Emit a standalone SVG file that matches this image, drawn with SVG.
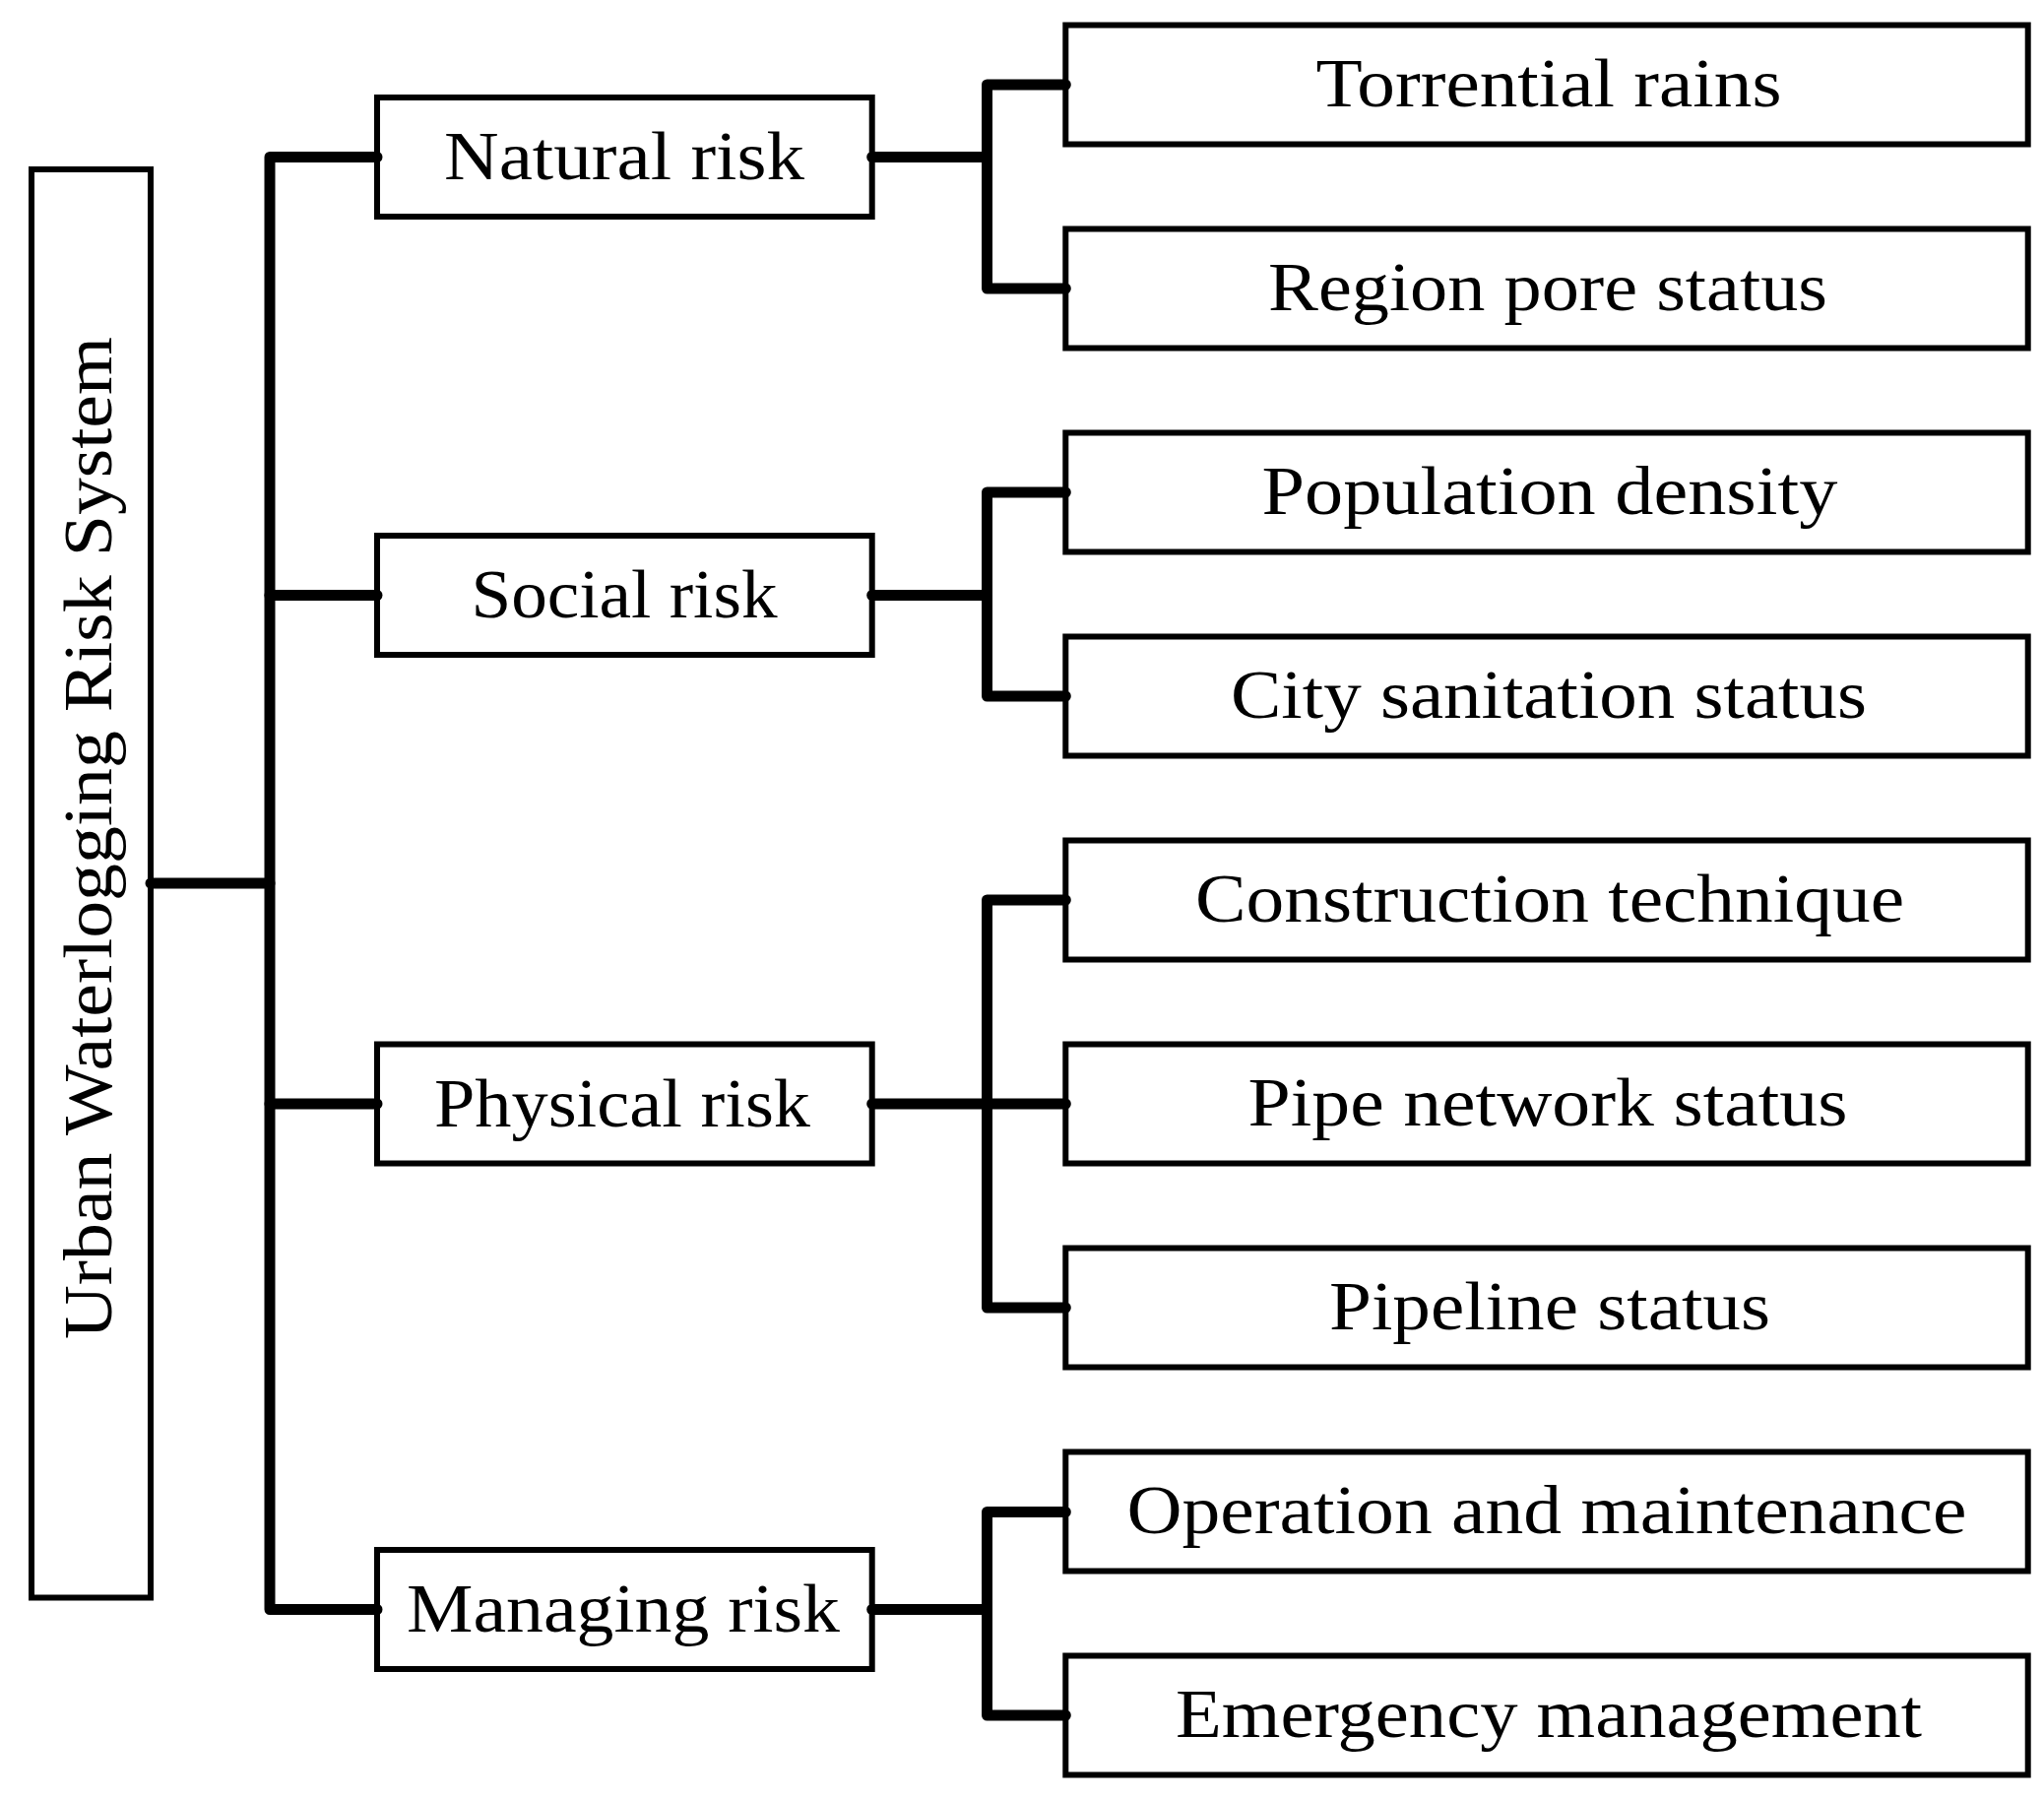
<svg xmlns="http://www.w3.org/2000/svg" width="2076" height="1828" viewBox="0 0 2076 1828">
<style>
.box{fill:#fff;stroke:#000;stroke-width:6}
.lbl{font-family:"Liberation Serif","Times New Roman",serif;font-size:70px;fill:#000;text-anchor:middle}
.con{fill:none;stroke:#000;stroke-width:11;stroke-linecap:round;stroke-linejoin:round}
</style>
<rect width="2076" height="1828" fill="#fff"/>
<g id="root">
<rect class="box" x="32" y="172" width="121" height="1450.5"/>
<text class="lbl" transform="translate(113,851) rotate(-90)" textLength="1018" lengthAdjust="spacingAndGlyphs">Urban Waterlogging Risk System</text>
</g>
<g id="natural">
<rect class="box" x="383" y="99" width="502.7" height="121"/>
<text class="lbl" x="634" y="182" textLength="366" lengthAdjust="spacingAndGlyphs">Natural risk</text>
</g>
<g id="social">
<rect class="box" x="383" y="544" width="502.7" height="121"/>
<text class="lbl" x="634" y="627" textLength="311" lengthAdjust="spacingAndGlyphs">Social risk</text>
</g>
<g id="physical">
<rect class="box" x="383" y="1060.5" width="502.7" height="121"/>
<text class="lbl" x="632" y="1144" textLength="382" lengthAdjust="spacingAndGlyphs">Physical risk</text>
</g>
<g id="managing">
<rect class="box" x="383" y="1574" width="502.7" height="121"/>
<text class="lbl" x="633" y="1657" textLength="440" lengthAdjust="spacingAndGlyphs">Managing risk</text>
</g>
<g id="torrential">
<rect class="box" x="1082.3" y="25.5" width="977.4" height="121"/>
<text class="lbl" x="1573" y="108" textLength="473" lengthAdjust="spacingAndGlyphs">Torrential rains</text>
</g>
<g id="region">
<rect class="box" x="1082.3" y="232.5" width="977.4" height="121"/>
<text class="lbl" x="1572" y="315" textLength="568" lengthAdjust="spacingAndGlyphs">Region pore status</text>
</g>
<g id="population">
<rect class="box" x="1082.3" y="439.5" width="977.4" height="121"/>
<text class="lbl" x="1574" y="522" textLength="585" lengthAdjust="spacingAndGlyphs">Population density</text>
</g>
<g id="sanitation">
<rect class="box" x="1082.3" y="646.5" width="977.4" height="121"/>
<text class="lbl" x="1573" y="729" textLength="646" lengthAdjust="spacingAndGlyphs">City sanitation status</text>
</g>
<g id="construction">
<rect class="box" x="1082.3" y="853.5" width="977.4" height="121"/>
<text class="lbl" x="1574" y="936" textLength="720" lengthAdjust="spacingAndGlyphs">Construction technique</text>
</g>
<g id="pipenetwork">
<rect class="box" x="1082.3" y="1060.5" width="977.4" height="121"/>
<text class="lbl" x="1572" y="1143" textLength="609" lengthAdjust="spacingAndGlyphs">Pipe network status</text>
</g>
<g id="pipeline">
<rect class="box" x="1082.3" y="1267.5" width="977.4" height="121"/>
<text class="lbl" x="1574" y="1350" textLength="448" lengthAdjust="spacingAndGlyphs">Pipeline status</text>
</g>
<g id="operation">
<rect class="box" x="1082.3" y="1474.5" width="977.4" height="121"/>
<text class="lbl" x="1571" y="1557" textLength="853" lengthAdjust="spacingAndGlyphs">Operation and maintenance</text>
</g>
<g id="emergency">
<rect class="box" x="1082.3" y="1681.5" width="977.4" height="121"/>
<text class="lbl" x="1573" y="1764" textLength="758" lengthAdjust="spacingAndGlyphs">Emergency management</text>
</g>
<g id="connectors">
<path class="con" d="M153 897H274"/>
<path class="con" d="M383 159.5H274V1634.5H383"/>
<path class="con" d="M274 604.5H383"/>
<path class="con" d="M274 1121H383"/>
<path class="con" d="M885.7 159.5H1002.5"/>
<path class="con" d="M1082.3 86H1002.5V293H1082.3"/>
<path class="con" d="M885.7 604.5H1002.5"/>
<path class="con" d="M1082.3 500H1002.5V707H1082.3"/>
<path class="con" d="M885.7 1121H1082.3"/>
<path class="con" d="M1082.3 914H1002.5V1328H1082.3"/>
<path class="con" d="M885.7 1634.5H1002.5"/>
<path class="con" d="M1082.3 1535.5H1002.5V1742H1082.3"/>
</g>
</svg>
